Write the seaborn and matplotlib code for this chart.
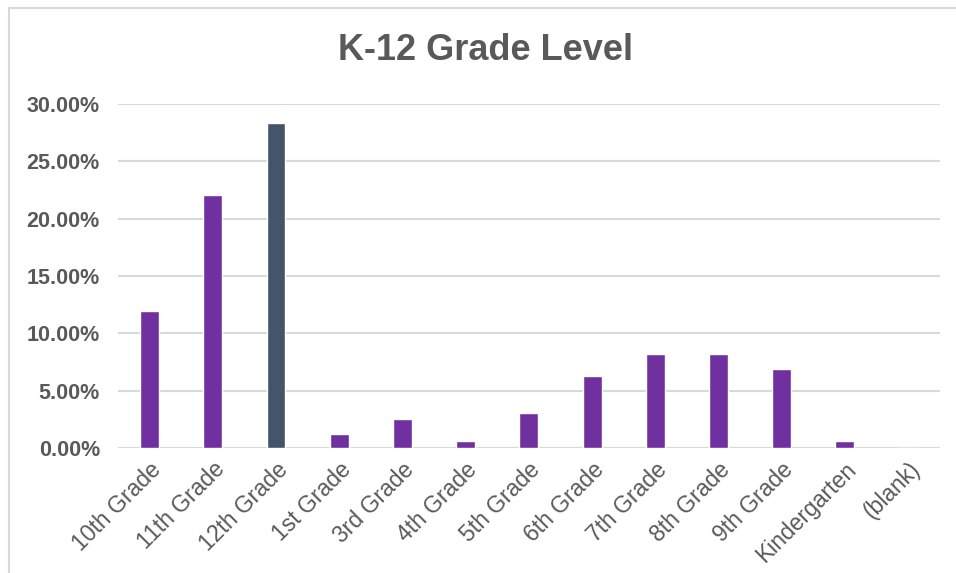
import matplotlib
matplotlib.use("Agg")
import matplotlib.pyplot as plt
import matplotlib.ticker as mticker
from matplotlib.lines import Line2D
import pandas as pd
import seaborn as sns

GRADES = ["10th Grade", "11th Grade", "12th Grade", "1st Grade", "3rd Grade",
          "4th Grade", "5th Grade", "6th Grade", "7th Grade", "8th Grade",
          "9th Grade", "Kindergarten", "(blank)"]
SHARE = [0.1196, 0.2203, 0.2836, 0.0124, 0.0250, 0.0060, 0.0310, 0.0630,
         0.0817, 0.0817, 0.0686, 0.0060, 0.0]
HIGHLIGHT = "12th Grade"

PURPLE = "#7030A0"
SLATE = "#44546A"
GREY_TXT = "#595959"


def main():
    df = pd.DataFrame({"grade": GRADES, "share": SHARE})
    palette = {g: (SLATE if g == HIGHLIGHT else PURPLE) for g in GRADES}

    sns.set_theme(style="white")
    plt.rcParams["font.family"] = ["Liberation Sans", "DejaVu Sans"]

    fig = plt.figure(figsize=(9.56, 5.73), dpi=100)
    ax = fig.add_axes([0.1234, 0.218, 0.8596, 0.6005])

    sns.barplot(data=df, x="grade", y="share", hue="grade", palette=palette,
                width=0.3, legend=False, ax=ax, saturation=1)

    ax.set_ylim(0, 0.30)
    ax.set_xlim(-0.5, len(GRADES) - 0.5)
    ax.yaxis.set_major_locator(mticker.MultipleLocator(0.05))
    ax.yaxis.set_major_formatter(mticker.PercentFormatter(1.0, decimals=2))
    ax.grid(axis="y", color="#D9D9D9", linewidth=1.5)
    ax.set_axisbelow(True)
    for s in ax.spines.values():
        s.set_visible(False)
    ax.set_xlabel("")
    ax.set_ylabel("")
    ax.tick_params(axis="both", length=0)
    ax.tick_params(axis="y", pad=13)
    ax.tick_params(axis="x", pad=7)
    for t in ax.get_yticklabels():
        t.set_fontsize(15.5)
        t.set_fontweight("bold")
        t.set_color(GREY_TXT)
    for t in ax.get_xticklabels():
        t.set_fontsize(16.5)
        t.set_color(GREY_TXT)
        t.set_rotation(45)
        t.set_ha("right")
        t.set_rotation_mode("anchor")

    fig.text(0.508, 0.912, "K-12 Grade Level", ha="center", va="center",
             fontsize=26, fontweight="bold", color=GREY_TXT)

    # chart frame
    fig.add_artist(Line2D([9 / 956, 1], [1 - 8 / 573, 1 - 8 / 573],
                          color="#D9D9D9", linewidth=1.5))
    fig.add_artist(Line2D([9 / 956, 9 / 956], [0, 1 - 8 / 573],
                          color="#D9D9D9", linewidth=1.5))

    fig.savefig("out.png", dpi=100)


if __name__ == "__main__":
    main()
